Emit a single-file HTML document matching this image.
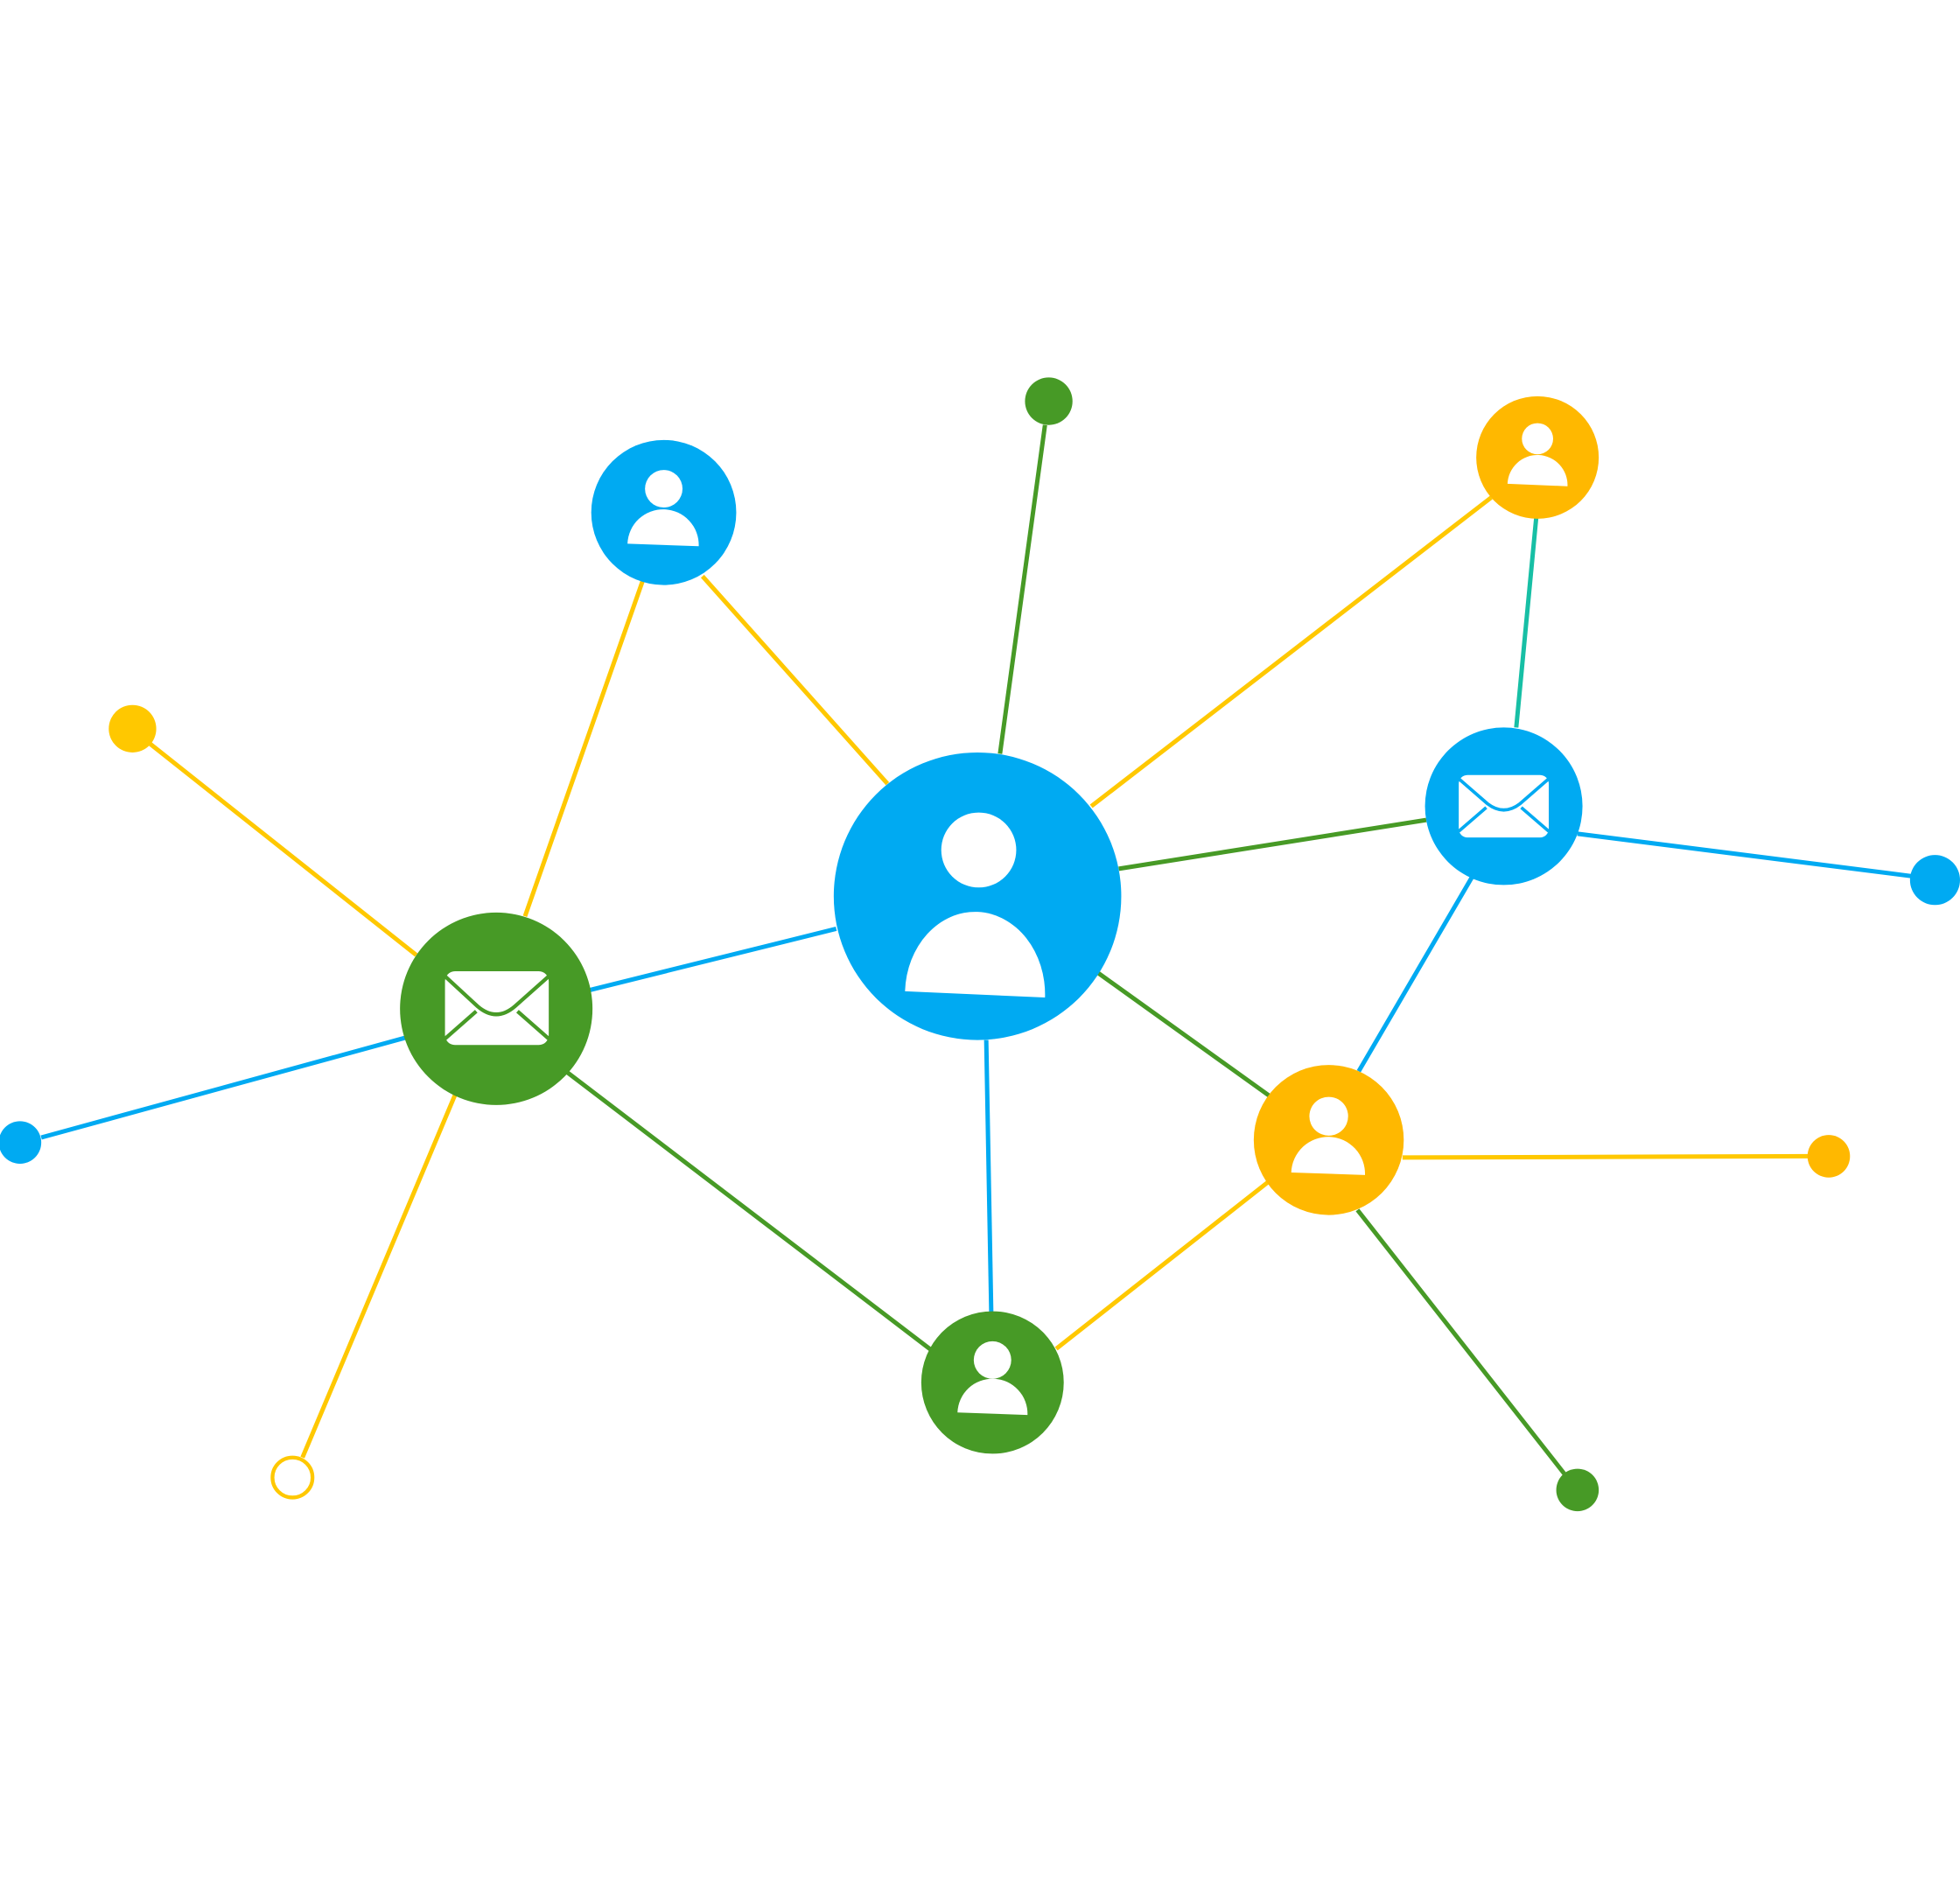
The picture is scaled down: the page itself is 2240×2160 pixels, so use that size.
<!DOCTYPE html>
<html><head><meta charset="utf-8"><style>html,body{margin:0;padding:0;background:#fff}svg{display:block}</style></head>
<body>
<svg width="2240" height="2160" viewBox="0 0 1568 1512" xmlns="http://www.w3.org/2000/svg">
<g stroke-width="3.5" fill="none">
<line x1="710" y1="627" x2="562" y2="461" stroke="#FFC800"/>
<line x1="800" y1="603" x2="836" y2="340" stroke="#479A26"/>
<line x1="873" y1="645" x2="1193" y2="398" stroke="#FFC800"/>
<line x1="895" y1="695" x2="1141" y2="656" stroke="#479A26"/>
<line x1="878" y1="778" x2="1016" y2="877" stroke="#479A26"/>
<line x1="789" y1="832" x2="793" y2="1050" stroke="#00AAF2"/>
<line x1="669" y1="743" x2="472" y2="792" stroke="#00AAF2"/>
<line x1="514" y1="465" x2="420" y2="733" stroke="#FFC800"/>
<line x1="120" y1="595" x2="333" y2="764" stroke="#FFC800"/>
<line x1="33" y1="910" x2="325" y2="830" stroke="#00AAF2"/>
<line x1="364" y1="876" x2="242" y2="1166" stroke="#FFC800"/>
<line x1="454" y1="858" x2="745" y2="1080" stroke="#479A26"/>
<line x1="845" y1="1079" x2="1014" y2="946" stroke="#FFC800"/>
<line x1="1087" y1="857" x2="1178" y2="701" stroke="#00AAF2"/>
<line x1="1122" y1="926" x2="1447" y2="925" stroke="#FFC800"/>
<line x1="1086" y1="968" x2="1253" y2="1181" stroke="#479A26"/>
<line x1="1213" y1="582" x2="1229" y2="414" stroke="#17BFA5"/>
<line x1="1262" y1="667" x2="1530" y2="701" stroke="#00AAF2"/>
</g>
<circle cx="839" cy="321" r="19" fill="#479A26"/>
<circle cx="106" cy="583" r="19" fill="#FFC800"/>
<circle cx="1548" cy="704" r="20" fill="#00AAF2"/>
<circle cx="16" cy="914" r="17" fill="#00AAF2"/>
<circle cx="1463" cy="925" r="17" fill="#FFB800"/>
<circle cx="1262" cy="1192" r="17" fill="#479A26"/>
<circle cx="234" cy="1182" r="16" fill="#fff" stroke="#FFC800" stroke-width="3"/>

<circle cx="782" cy="717" r="115" fill="#00AAF2"/>
<circle cx="783" cy="680" r="30" fill="#fff"/>
<path d="M724,793 A56,66 0 0 1 836,798 Z" fill="#fff"/>

<circle cx="531" cy="410" r="58" fill="#00AAF2"/>
<circle cx="531" cy="391" r="15" fill="#fff"/>
<path d="M502,435 A28.5,28.5 0 0 1 559,437 Z" fill="#fff"/>

<circle cx="1230" cy="366" r="49" fill="#FFB800"/>
<circle cx="1230" cy="351" r="12.5" fill="#fff"/>
<path d="M1206,387 A24,24 0 0 1 1254,389 Z" fill="#fff"/>

<circle cx="1063" cy="912" r="60" fill="#FFB800"/>
<circle cx="1063" cy="893" r="15.5" fill="#fff"/>
<path d="M1033,938 A29,29 0 0 1 1092,940 Z" fill="#fff"/>

<circle cx="794" cy="1106" r="57" fill="#479A26"/>
<circle cx="794" cy="1088" r="15" fill="#fff"/>
<path d="M766,1130 A28,28 0 0 1 822,1132 Z" fill="#fff"/>

<circle cx="397" cy="807" r="77" fill="#479A26"/>
<rect x="356" y="777" width="83" height="59" rx="8" fill="#fff"/>
<g stroke="#479A26" stroke-width="3" fill="none">
<path d="M356,781 L382,805 Q397,818 412,805 L439,781"/>
<path d="M356,831 L381,809 M439,831 L414,809"/>
</g>

<circle cx="1203" cy="645" r="63" fill="#00AAF2"/>
<rect x="1167" y="620" width="72" height="50" rx="7" fill="#fff"/>
<g stroke="#00AAF2" stroke-width="2.6" fill="none">
<path d="M1167,623 L1190,643 Q1203,653 1216,643 L1239,623"/>
<path d="M1167,665 L1189,646 M1239,665 L1217,646"/>
</g>
</svg>
</body></html>
